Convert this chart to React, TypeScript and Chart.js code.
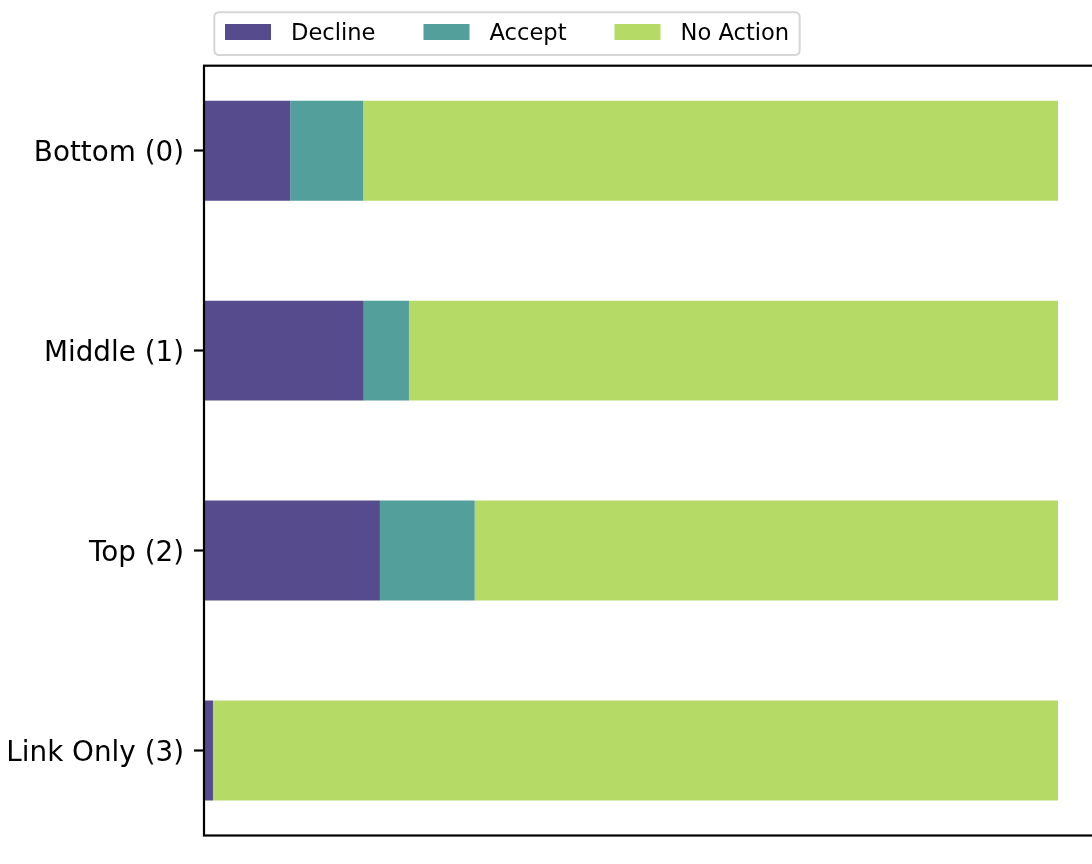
import { useEffect, useRef } from "react";
import { Chart, registerables } from "chart.js";

Chart.register(...registerables);

const CATEGORIES = ["Bottom (0)", "Middle (1)", "Top (2)", "Link Only (3)"];
const SERIES = ["Decline", "Accept", "No Action"];
const DECLINE = [0.101, 0.187, 0.206, 0.0105];
const ACCEPT = [0.0855, 0.053, 0.111, 0];
const NO_ACTION = [0.8135, 0.76, 0.683, 0.9895];
const COLORS = ["#564b8c", "#529f9c", "#b5da66"];

const FONT = "'DejaVu Sans', 'Liberation Sans', sans-serif";

const framePlugin = {
  id: "frameAndLegend",
  afterDraw(chart: any) {
    const { ctx, chartArea: a } = chart;
    ctx.save();
    // axes frame
    ctx.strokeStyle = "#000";
    ctx.lineWidth = 2.2;
    ctx.strokeRect(a.left, a.top, a.right - a.left, a.bottom - a.top);

    // legend
    ctx.font = `22.6px ${FONT}`;
    const ds = chart.data.datasets;
    const sw = 46;
    const sh = 16;
    const gapText = 20;
    const gapItem = 48;
    let x = 225;
    const items: { sx: number; tx: number; label: string; color: string }[] = [];
    let endX = x;
    ds.forEach((d: any) => {
      const tx = x + sw + gapText;
      const w = ctx.measureText(d.label).width;
      items.push({ sx: x, tx, label: d.label, color: d.backgroundColor });
      endX = tx + w;
      x = endX + gapItem;
    });
    const bx = 214.3;
    const by = 12.3;
    const bw = endX + 10.5 - bx;
    const bh = 42.7;
    const r = 5;
    ctx.beginPath();
    ctx.moveTo(bx + r, by);
    ctx.lineTo(bx + bw - r, by);
    ctx.quadraticCurveTo(bx + bw, by, bx + bw, by + r);
    ctx.lineTo(bx + bw, by + bh - r);
    ctx.quadraticCurveTo(bx + bw, by + bh, bx + bw - r, by + bh);
    ctx.lineTo(bx + r, by + bh);
    ctx.quadraticCurveTo(bx, by + bh, bx, by + bh - r);
    ctx.lineTo(bx, by + r);
    ctx.quadraticCurveTo(bx, by, bx + r, by);
    ctx.closePath();
    ctx.fillStyle = "rgba(255,255,255,0.8)";
    ctx.fill();
    ctx.strokeStyle = "#d6d6d6";
    ctx.lineWidth = 2;
    ctx.stroke();

    ctx.textBaseline = "alphabetic";
    ctx.textAlign = "left";
    items.forEach((it) => {
      ctx.fillStyle = it.color;
      ctx.fillRect(it.sx, 24, sw, sh);
      ctx.fillStyle = "#000";
      ctx.fillText(it.label, it.tx, 39.7);
    });
    ctx.restore();
  },
};

export default function App() {
  const ref = useRef<HTMLCanvasElement | null>(null);

  useEffect(() => {
    if (!ref.current) return;
    const values = [DECLINE, ACCEPT, NO_ACTION];
    const chart = new Chart(ref.current, {
      type: "bar",
      data: {
        datasets: SERIES.map((label, k) => ({
          label,
          data: values[k].map((v, i) => ({ x: v, y: i })),
          backgroundColor: COLORS[k],
          borderWidth: 0,
          barPercentage: 0.5,
          categoryPercentage: 1.0,
        })),
      },
      options: {
        indexAxis: "y",
        animation: false,
        responsive: false,
        layout: { padding: { top: 65.7, bottom: 28.5, left: 0, right: 9.3 } },
        plugins: {
          legend: { display: false },
          tooltip: { enabled: false },
        },
        scales: {
          x: {
            type: "linear",
            min: 0,
            max: 1.05,
            stacked: true,
            display: false,
          },
          y: {
            type: "linear",
            min: -0.425,
            max: 3.425,
            reverse: true,
            stacked: true,
            offset: false,
            afterBuildTicks: (s: any) => {
              s.ticks = CATEGORIES.map((_, i) => ({ value: i }));
            },
            afterFit: (s: any) => {
              s.width = 204;
            },
            ticks: {
              autoSkip: false,
              color: "#000",
              padding: 10,
              labelOffset: 3,
              font: { size: 27.8, family: FONT },
              callback: (v: any) => CATEGORIES[v] ?? "",
            },
            grid: {
              offset: false,
              drawOnChartArea: false,
              drawTicks: true,
              tickLength: 10,
              tickWidth: 2.2,
              tickColor: "#000",
            },
            border: { display: false },
          },
        },
      } as any,
      plugins: [framePlugin],
    });
    return () => chart.destroy();
  }, []);

  return (
    <div
      style={{
        position: "fixed",
        left: 0,
        top: 0,
        width: 1092,
        height: 864,
        overflow: "hidden",
        background: "#fff",
      }}
    >
      <canvas ref={ref} width={1110} height={864} style={{ width: 1110, height: 864, display: "block" }} />
    </div>
  );
}
